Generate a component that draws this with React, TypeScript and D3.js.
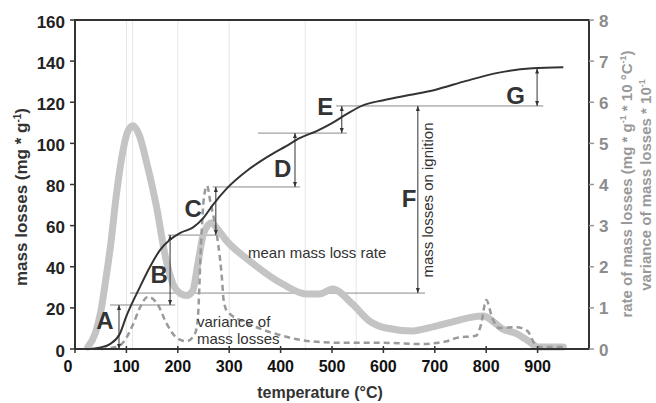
import React from "react";
import * as d3 from "d3";

const W = 656, H = 403;
const M = { left: 75, right: 589, top: 20, bottom: 349 };

const xTicks = [0, 100, 200, 300, 400, 500, 600, 700, 800, 900];
const yLeftTicks = [0, 20, 40, 60, 80, 100, 120, 140, 160];
const yRightTicks = [0, 1, 2, 3, 4, 5, 6, 7, 8];
const gridTemps = [100, 112, 200, 300, 448, 547];

// cumulative mass losses (left axis)
const massT = [30, 50, 68, 87, 100, 126, 146, 165, 184, 205, 229, 249, 268, 295, 334, 359, 385, 410, 437, 470, 501, 530, 560, 600, 650, 700, 761, 825, 890, 950];
const massV = [0, 0.8, 2.4, 7.3, 16, 30, 40, 48, 53, 56.5, 59, 63.5, 70, 78, 86.6, 91, 95, 98.5, 102.5, 106, 110, 114.5, 118.5, 121, 123.5, 126, 130.4, 134.4, 136.5, 137];

// mean mass loss rate (right axis)
const rateT = [25, 40, 50, 60, 70, 80, 93, 103, 113, 125, 140, 159, 175, 190, 205, 217, 229, 239, 250, 266, 275, 295, 340, 404, 450, 476, 501, 540, 573, 605, 656, 700, 740, 770, 795, 810, 830, 860, 885, 900, 950];
const rateV = [0.05, 0.4, 0.9, 1.7, 2.6, 3.7, 4.8, 5.3, 5.43, 5.2, 4.5, 3.43, 2.3, 1.6, 1.35, 1.3, 1.41, 2.07, 2.8, 3.07, 2.95, 2.63, 2.14, 1.58, 1.34, 1.34, 1.46, 1.09, 0.68, 0.51, 0.44, 0.55, 0.68, 0.77, 0.8, 0.7, 0.5, 0.37, 0.17, 0.05, 0.05];

// variance of mass losses (right axis)
const varT = [50, 80, 93, 113, 126, 142, 160, 179, 198, 217, 233, 239, 245, 251, 257, 263, 278, 286, 289, 296, 335, 393, 457, 520, 600, 671, 724, 742, 780, 790, 800, 812, 825, 858, 880, 893, 899, 951];
const varV = [0, 0.05, 0.15, 0.6, 1.0, 1.27, 1.1, 0.6, 0.27, 0.19, 0.36, 0.75, 2.5, 3.7, 3.97, 3.6, 2.6, 1.7, 1.2, 0.92, 0.63, 0.36, 0.19, 0.15, 0.15, 0.12, 0.19, 0.27, 0.32, 0.6, 1.19, 0.75, 0.51, 0.53, 0.44, 0.15, 0.05, 0.05];

// reference lines: level, from T, to T
const refLevels = [21.4, 27.2, 55.4, 78.8, 105, 118.2];
const refFrom = [68, 107, 181, 268, 356, 508];
const refTo = [195, 681, 276, 438, 529, 911];

// stage arrows
const stageLabels = ["A", "B", "C", "D", "E", "F", "G"];
const stageT = [85.6, 185, 274, 428, 519, 667, 899];
const stageLow = [0, 21.4, 55.4, 78.8, 105, 27.2, 118.2];
const stageHigh = [21.4, 55.4, 78.8, 105, 118.2, 118.2, 136.4];
const labelT = [58, 164, 230, 404, 487, 650, 857];
const labelV = [14, 36, 68.5, 88, 118, 73, 123.5];

const FONT = "'Liberation Sans', Arial, Helvetica, sans-serif";

export default function App() {
  const x = d3.scaleLinear().domain([0, 1000]).range([M.left, M.right]);
  const yL = d3.scaleLinear().domain([0, 160]).range([M.bottom, M.top]);
  const yR = d3.scaleLinear().domain([0, 8]).range([M.bottom, M.top]);

  const massLine = d3.line<number>().x((_, i) => x(massT[i])).y((v) => yL(v)).curve(d3.curveMonotoneX);
  const rateLine = d3.line<number>().x((_, i) => x(rateT[i])).y((v) => yR(v)).curve(d3.curveMonotoneX);
  const varLine = d3.line<number>().x((_, i) => x(varT[i])).y((v) => yR(v)).curve(d3.curveMonotoneX);

  const refColor = "#8a8a8a";

  return (
    <svg width={W} height={H} style={{ position: "absolute", left: 0, top: 0, background: "#fff" }} fontFamily={FONT}>
      <defs>
        <marker id="ah" viewBox="0 0 10 10" refX="10" refY="5" markerWidth="5" markerHeight="6" orient="auto-start-reverse">
          <path d="M0,1 L10,5 L0,9 z" fill="#333" />
        </marker>
      </defs>
      <rect x={0} y={0} width={W} height={H} fill="#fff" />
      {gridTemps.map((t) => (
        <line key={"g" + t} x1={x(t)} x2={x(t)} y1={M.top} y2={M.bottom} stroke="#e6e6e6" strokeWidth={1} />
      ))}
      {refLevels.map((v, i) => (
        <line key={"r" + i} x1={x(refFrom[i])} x2={x(refTo[i])} y1={yL(v)} y2={yL(v)} stroke={refColor} strokeWidth={1} />
      ))}
      <path d={rateLine(rateV) || ""} fill="none" stroke="#c4c4c4" strokeWidth={7} strokeLinecap="round" strokeLinejoin="round" />
      <path d={varLine(varV) || ""} fill="none" stroke="#9a9a9a" strokeWidth={2.5} strokeDasharray="6,4" />
      <path d={massLine(massV) || ""} fill="none" stroke="#333" strokeWidth={2} />
      {stageT.map((t, i) => (
        <line key={"a" + i} x1={x(t)} x2={x(t)} y1={yL(stageLow[i])} y2={yL(stageHigh[i])} stroke="#333" strokeWidth={1}
          markerStart="url(#ah)" markerEnd="url(#ah)" />
      ))}
      {stageLabels.map((s, i) => (
        <text key={"l" + s} x={x(labelT[i])} y={yL(labelV[i])} textAnchor="middle" dominantBaseline="central"
          fontSize={24} fontWeight="bold" fill="#333">{s}</text>
      ))}
      <text x={248} y={258} fontSize={15} fill="#333">mean mass loss rate</text>
      <text x={197} y={327} fontSize={15} fill="#333">variance of</text>
      <text x={197} y={344} fontSize={15} fill="#333">mass losses</text>
      <text transform={`translate(433,200) rotate(-90)`} textAnchor="middle" fontSize={15} fill="#333">mass losses on ignition</text>
      <rect x={M.left} y={M.top} width={M.right - M.left} height={M.bottom - M.top} fill="none" stroke="#333" strokeWidth={2} />
      {yLeftTicks.map((v) => (
        <g key={"yl" + v}>
          <line x1={M.left - 5} x2={M.left} y1={yL(v)} y2={yL(v)} stroke="#333" strokeWidth={1.5} />
          <text x={M.left - 10} y={yL(v) + 2} textAnchor="end" dominantBaseline="central" fontSize={17} fontWeight="bold" fill="#222">{v}</text>
        </g>
      ))}
      {yRightTicks.map((v) => (
        <g key={"yr" + v}>
          <line x1={M.right} x2={M.right + 5} y1={yR(v)} y2={yR(v)} stroke="#999" strokeWidth={1.5} />
          <text x={M.right + 10} y={yR(v) + 1} textAnchor="start" dominantBaseline="central" fontSize={17} fontWeight="bold" fill="#8c8c8c">{v}</text>
        </g>
      ))}
      {xTicks.map((v) => (
        <g key={"x" + v}>
          <line x1={x(v)} x2={x(v)} y1={M.bottom - 3} y2={M.bottom + 4} stroke="#333" strokeWidth={1.5} />
          <text x={v === 0 ? x(v) - 7 : x(v)} y={372} textAnchor="middle" fontSize={16} fontWeight="bold" fill="#111">{v}</text>
        </g>
      ))}
      <text x={320} y={398} textAnchor="middle" fontSize={16} fontWeight="bold" fill="#333">temperature (°C)</text>
      <text transform="translate(27,197) rotate(-90)" textAnchor="middle" fontSize={17} fontWeight="bold" fill="#333">
        mass losses (mg * g<tspan dy={-6} fontSize={10}>-1</tspan><tspan dy={6}>)</tspan>
      </text>
      <text transform="translate(632,184) rotate(-90)" textAnchor="middle" fontSize={15} fontWeight="bold" fill="#999">
        rate of mass losses (mg * g<tspan dy={-6} fontSize={9}>-1</tspan><tspan dy={6}> * 10 °C</tspan><tspan dy={-6} fontSize={9}>-1</tspan><tspan dy={6}>)</tspan>
      </text>
      <text transform="translate(651,185) rotate(-90)" textAnchor="middle" fontSize={15} fontWeight="bold" fill="#999">
        variance of mass losses * 10<tspan dy={-6} fontSize={9}>-1</tspan>
      </text>
    </svg>
  );
}
